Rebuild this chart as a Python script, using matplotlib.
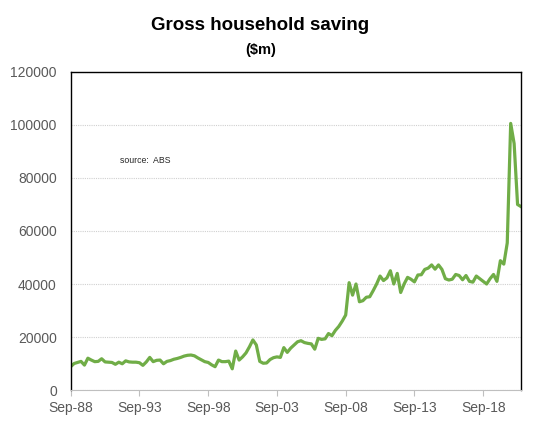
import matplotlib
matplotlib.use("Agg")
import matplotlib.pyplot as plt

# ------------------------------------------- #
#  Data: gross household saving, quarterly     #
# ------------------------------------------- #
tick_labels = ["Sep-88", "Sep-93", "Sep-98", "Sep-03", "Sep-08", "Sep-13", "Sep-18"]
tick_step = 20  # quarters between labels

saving = [
    8800, 10000, 10400, 10800, 9400, 12000, 11300, 10700, 10800, 11800,
    10600, 10500, 10400, 9700, 10500, 9900, 11000, 10600, 10500, 10500,
    10300, 9300, 10600, 12300, 10700, 11200, 11300, 9900, 10800, 11100,
    11600, 11900, 12300, 12800, 13100, 13200, 12900, 12100, 11400, 10700,
    10400, 9500, 8800, 11300, 10700, 10700, 10900, 8000, 14700, 11300,
    12500, 14000, 16300, 18900, 17000, 10800, 10100, 10200, 11500, 12200,
    12500, 12300, 16000, 14200, 15800, 17000, 18200, 18600, 17900, 17600,
    17400, 15400, 19500, 19100, 19300, 21300, 20500, 22500, 24000, 26000,
    28300, 40500, 35800, 40000, 33300, 33700, 35000, 35200, 37500, 40000,
    43000, 41300, 42300, 45000, 40000, 44000, 36800, 40000, 42500, 41800,
    40800, 43400, 43500, 45500, 46000, 47200, 45600, 47200, 45500, 42000,
    41500, 41800, 43600, 43200, 41600, 43200, 41000, 40700, 43000, 42000,
    41000, 40000, 42000, 43600, 41000, 48800, 47500, 55500, 100600, 93000,
    70000, 69200,
]

# ------------------------------------------- #
#  Figure                                      #
# ------------------------------------------- #
plt.rcParams['font.family'] = ['Liberation Sans', 'DejaVu Sans']

fig = plt.figure(figsize=(5.38, 4.30), dpi=100)
ax = fig.add_axes([0.1314, 0.093, 0.8370, 0.7396])

quarters = list(range(len(saving)))
ax.plot(quarters, saving, color="#70AD47", linewidth=2.3, solid_joinstyle="round")

ax.set_xlim(0, len(saving) - 1)
ax.set_ylim(0, 120000)
ax.set_yticks(range(0, 120001, 20000))
ax.set_xticks(range(0, len(tick_labels) * tick_step, tick_step))
ax.set_xticklabels(tick_labels)

ax.grid(axis="y", color="#D0D0D0", linestyle=(0, (1, 1)), linewidth=0.8)
ax.set_axisbelow(True)

ax.tick_params(axis="y", length=0, pad=10, labelsize=10, labelcolor="#595959")
ax.tick_params(axis="x", length=4, width=0.8, color="#BFBFBF", pad=4,
               labelsize=10, labelcolor="#595959")

for side in ["left", "right", "top"]:
    ax.spines[side].set_color("black")
    ax.spines[side].set_linewidth(1.0)
ax.spines["bottom"].set_color("#BFBFBF")
ax.spines["bottom"].set_linestyle((0, (1, 1)))
ax.spines["bottom"].set_linewidth(0.8)

ax.text(14.4, 86500, "source:  ABS", fontsize=6.3, color="#262626", va="center")

fig.text(0.484, 0.940, "Gross household saving", ha="center", va="center",
         fontsize=13.5, fontweight="bold")
fig.text(0.484, 0.884, "($m)", ha="center", va="center",
         fontsize=10.5, fontweight="bold")

fig.savefig("out.png", dpi=100)
